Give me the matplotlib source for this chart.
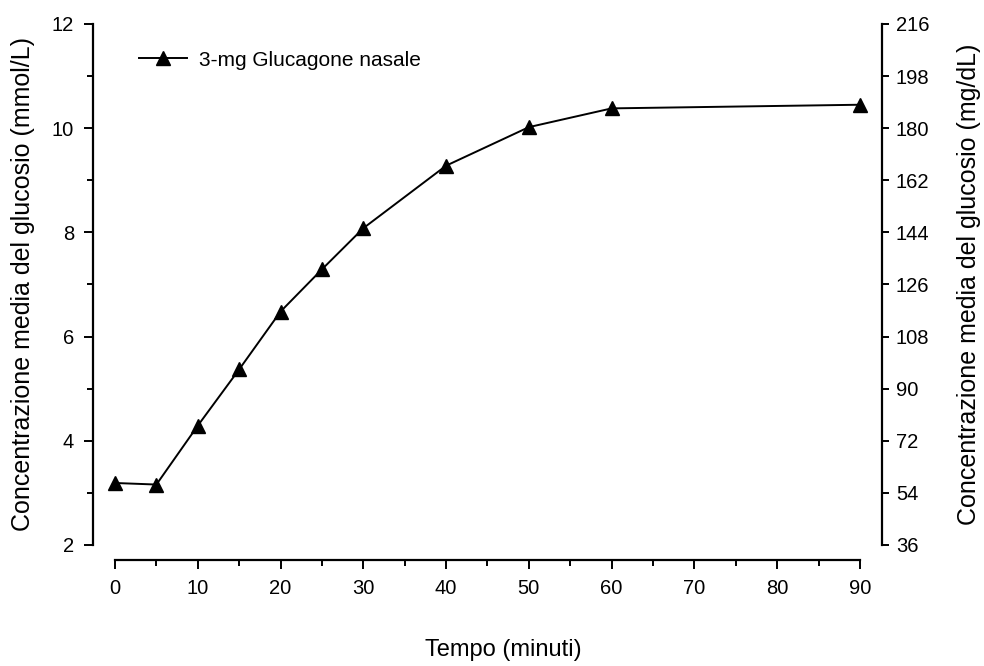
import matplotlib.pyplot as plt
from matplotlib.ticker import MultipleLocator

plt.rcParams['font.family'] = ['Liberation Sans', 'DejaVu Sans']

# dati
tempo = [0, 5, 10, 15, 20, 25, 30, 40, 50, 60, 90]
glucosio = [3.19, 3.16, 4.29, 5.37, 6.48, 7.29, 8.08, 9.28, 10.02, 10.38, 10.45]
etichetta = "3-mg Glucagone nasale"

fig = plt.figure(figsize=(9.84, 6.66), dpi=100)
ax = fig.add_axes([0.0945, 0.1817, 0.8018, 0.7823])

ax.plot(tempo, glucosio, color='black', lw=1.4, marker='^', markersize=10, label=etichetta)

ax.set_xlim(-2.66, 92.66)
ax.set_ylim(2, 12)

# assi
for s in ['top', 'right']:
    ax.spines[s].set_visible(False)
ax.spines['left'].set_linewidth(1.6)
ax.spines['bottom'].set_linewidth(1.6)
ax.spines['bottom'].set_position(('outward', 11))
ax.spines['bottom'].set_bounds(0, 90)

ax.xaxis.set_major_locator(MultipleLocator(10))
ax.xaxis.set_minor_locator(MultipleLocator(5))
ax.yaxis.set_major_locator(MultipleLocator(2))
ax.yaxis.set_minor_locator(MultipleLocator(1))
ax.tick_params(which='major', direction='out', length=6.5, width=1.4, labelsize=14.5, pad=7, colors='black')
ax.tick_params(which='minor', direction='out', length=4.5, width=1.4)
ax.tick_params(axis='y', which='major', pad=7)

ax.set_xlabel("Tempo (minuti)", fontsize=17)
ax.xaxis.set_label_coords(0.52, -0.18)
ax.set_ylabel("Concentrazione media del glucosio (mmol/L)", fontsize=18, labelpad=12)

# asse destro in mg/dL
ax2 = ax.twinx()
ax2.set_ylim(36, 216)
for s in ['top', 'left', 'bottom']:
    ax2.spines[s].set_visible(False)
ax2.spines['right'].set_linewidth(1.6)
ax2.yaxis.set_major_locator(MultipleLocator(18))
ax2.tick_params(direction='out', length=5, width=1.4, labelsize=14.5, pad=5)
ax2.set_ylabel("Concentrazione media del glucosio (mg/dL)", fontsize=18, labelpad=20)

ax.legend(loc='upper left', bbox_to_anchor=(0.035, 0.985), frameon=False, fontsize=15,
          handlelength=2.3, handletextpad=0.55)

fig.savefig("out.png", dpi=100)
